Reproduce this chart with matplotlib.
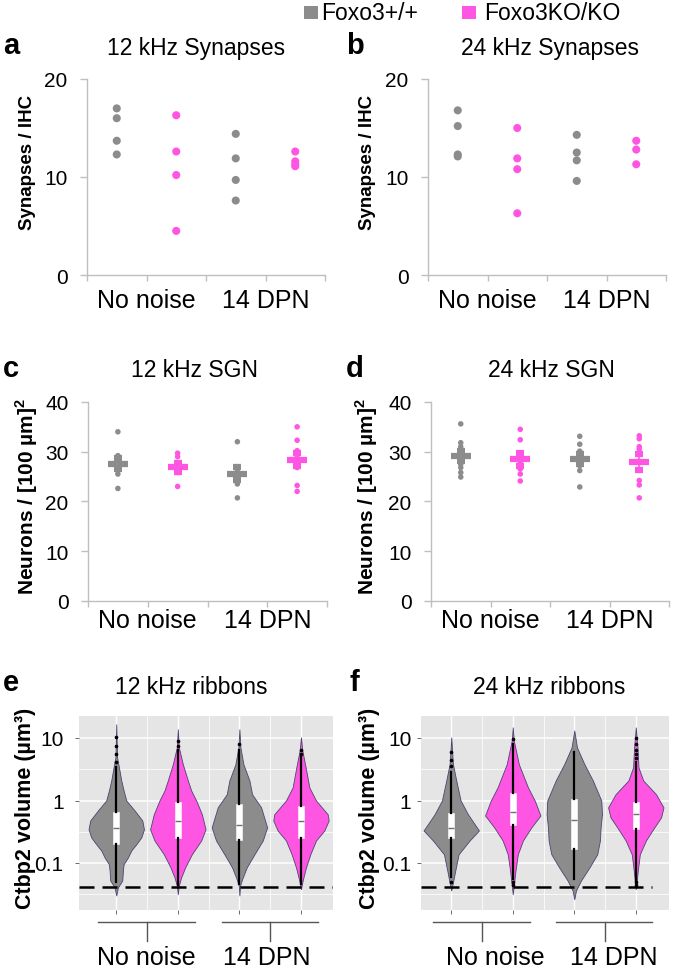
import numpy as np
import matplotlib
matplotlib.use('Agg')
import matplotlib.pyplot as plt
from matplotlib.patches import Rectangle
from matplotlib.transforms import blended_transform_factory

plt.rcParams['font.family'] = ['Liberation Sans', 'DejaVu Sans']
plt.rcParams['mathtext.fontset'] = 'custom'
plt.rcParams['mathtext.rm'] = 'Liberation Sans'
plt.rcParams['mathtext.bf'] = 'Liberation Sans:bold'

# ---------------- data ----------------
groups = ['No noise', '14 DPN']
genotypes = ['Foxo3+/+', 'Foxo3KO/KO']

# Synapses / IHC (panels a, b) order: WT no noise, KO no noise, WT 14 DPN, KO 14 DPN
syn12_wt_nn = [17.0, 16.0, 13.7, 12.3]
syn12_ko_nn = [16.3, 12.6, 10.2, 4.5]
syn12_wt_14 = [14.4, 11.9, 9.7, 7.6]
syn12_ko_14 = [12.6, 11.6, 11.3, 11.1]

syn24_wt_nn = [16.8, 15.2, 12.3, 12.1]
syn24_ko_nn = [15.0, 11.9, 10.8, 6.3]
syn24_wt_14 = [14.3, 12.5, 11.7, 9.6]
syn24_ko_14 = [13.7, 12.8, 11.3]

# Neurons / [100 um]^2 (panels c, d)
sgn12_wt_nn = [34.0, 29.2, 28.5, 27.8, 27.0, 26.2, 25.5, 22.6]
sgn12_ko_nn = [29.7, 29.0, 27.0, 26.5, 25.8, 23.0]
sgn12_wt_14 = [32.0, 26.8, 26.0, 25.3, 24.8, 23.5, 20.7]
sgn12_ko_14 = [35.0, 32.3, 30.2, 29.5, 28.8, 27.8, 26.8, 23.2, 22.0]

sgn24_wt_nn = [35.6, 31.8, 31.0, 30.2, 29.5, 28.8, 27.5, 26.8, 25.8, 24.9]
sgn24_ko_nn = [34.5, 32.4, 29.2, 28.0, 27.2, 26.5, 25.5, 24.1]
sgn24_wt_14 = [33.1, 31.5, 30.1, 29.3, 28.6, 28.0, 27.2, 26.2, 22.9]
sgn24_ko_14 = [33.2, 32.6, 31.0, 30.5, 28.0, 24.2, 23.3, 20.7]

# Ctbp2 ribbon volume violins (panels e, f): log10 level and relative density width
vio12_wt_nn_log = [1.22, 0.69, 0.53, 0.32, 0.16, 0.0, -0.16, -0.32, -0.46, -0.59, -0.70, -0.80, -0.91, -1.02, -1.12, -1.28, -1.39, -1.52]
vio12_wt_nn_den = [0, 2.5, 8, 15, 22, 30, 55, 78, 83, 75, 60, 45, 35, 22, 20, 18, 5, 0]
vio12_ko_nn_log = [1.14, 0.85, 0.58, 0.32, 0.16, 0.0, -0.22, -0.46, -0.64, -0.86, -1.07, -1.23, -1.36, -1.50]
vio12_ko_nn_den = [0, 3, 15, 30, 40, 55, 72, 83, 70, 42, 22, 10, 3, 0]
vio12_wt_14_log = [1.14, 0.85, 0.58, 0.32, 0.10, -0.11, -0.43, -0.64, -0.86, -1.07, -1.26, -1.36, -1.52]
vio12_wt_14_den = [0, 3, 12, 30, 38, 65, 83, 70, 45, 22, 8, 2, 0]
vio12_ko_14_log = [1.01, 0.80, 0.53, 0.21, 0.0, -0.22, -0.32, -0.48, -0.64, -0.86, -1.07, -1.28, -1.42]
vio12_ko_14_den = [0, 4, 14, 25, 45, 80, 83, 70, 45, 28, 15, 5, 0]

vio24_wt_nn_log = [1.01, 0.58, 0.32, 0.0, -0.22, -0.48, -0.64, -0.86, -1.12, -1.34, -1.44]
vio24_wt_nn_den = [0, 5, 15, 28, 50, 83, 55, 22, 12, 4, 0]
vio24_ko_nn_log = [1.17, 0.96, 0.58, 0.21, 0.0, -0.24, -0.43, -0.64, -0.86, -1.12, -1.36, -1.50]
vio24_ko_nn_den = [0, 3, 18, 45, 65, 82, 55, 30, 15, 8, 3, 0]
vio24_wt_14_log = [1.12, 0.85, 0.58, 0.32, 0.0, -0.22, -0.43, -0.64, -0.86, -1.07, -1.28, -1.44, -1.58]
vio24_wt_14_den = [0, 8, 30, 55, 80, 82, 78, 76, 68, 45, 20, 5, 0]
vio24_ko_14_log = [1.17, 0.85, 0.53, 0.32, 0.10, -0.11, -0.27, -0.43, -0.64, -0.86, -1.12, -1.28, -1.42]
vio24_ko_14_den = [0, 5, 8, 22, 60, 82, 75, 55, 30, 12, 6, 3, 0]

# box stats: q1, median, q3, whisker low, whisker high
box12_q1 = [0.20, 0.25, 0.23, 0.25]
box12_med = [0.36, 0.47, 0.40, 0.47]
box12_q3 = [0.65, 0.93, 0.89, 0.83]
box12_lo = [0.049, 0.044, 0.046, 0.046]
box12_hi = [3.4, 6.5, 6.5, 5.0]
box12_fliers = [[4.2, 5.5, 7.5, 10.5], [7.5, 9.0], [8.0], [5.5, 6.5]]

box24_q1 = [0.25, 0.41, 0.17, 0.35]
box24_med = [0.36, 0.66, 0.48, 0.60]
box24_q3 = [0.63, 1.30, 1.05, 0.93]
box24_lo = [0.059, 0.055, 0.055, 0.052]
box24_hi = [2.9, 7.9, 5.9, 4.1]
box24_fliers = [[3.5, 4.5, 6.0, 0.05], [0.045, 0.05, 9.5], [], [4.8, 5.5, 6.5, 8.0, 10.0, 0.045, 0.05]]

threshold = 0.042

# ---------------- style ----------------
W, H = 675, 970
fig = plt.figure(figsize=(W / 100, H / 100), dpi=100)
GRAY = '#8c8c8c'
MAG = '#ff55e3'
SPINE = '#bfbfbf'
colors4 = [GRAY, MAG, GRAY, MAG]


def ax_px(l, t, r, b):
    return fig.add_axes([l / W, 1 - b / H, (r - l) / W, (b - t) / H])


def fig_text(x, y, s, **kw):
    fig.text(x / W, 1 - y / H, s, **kw)


def excel_axes(ax, ymax, ystep):
    ax.set_xlim(0, 4)
    ax.set_ylim(0, ymax)
    for s in ['top', 'right']:
        ax.spines[s].set_visible(False)
    for s in ['left', 'bottom']:
        ax.spines[s].set_color(SPINE)
        ax.spines[s].set_linewidth(1.0)
    ax.set_yticks(np.arange(0, ymax + 1, ystep))
    ax.set_xticks([0, 1, 2, 3, 4])
    ax.set_xticklabels([])
    ax.tick_params(axis='y', length=5, width=1, color=SPINE, labelsize=15, pad=9)
    ax.tick_params(axis='x', length=4.5, width=1, color=SPINE)
    ax.patch.set_alpha(0)
    tr = blended_transform_factory(ax.transData, ax.transAxes)
    return tr


xpos = [0.5, 1.5, 2.5, 3.5]

# ---------------- panels a, b ----------------
for (l, r), series in [((87, 325), [syn12_wt_nn, syn12_ko_nn, syn12_wt_14, syn12_ko_14]),
                       ((428, 666), [syn24_wt_nn, syn24_ko_nn, syn24_wt_14, syn24_ko_14])]:
    ax = ax_px(l, 80, r, 276)
    tr = excel_axes(ax, 20, 10)
    for x, vals, c in zip(xpos, series, colors4):
        ax.scatter([x] * len(vals), vals, s=34, color=c, edgecolors='none', zorder=3, clip_on=False)
    for gx, g in zip([1, 3], groups):
        ax.text(gx, -0.125, g, transform=tr, ha='center', va='center', fontsize=18)

# ---------------- panels c, d ----------------
for (l, r), series in [((88, 327), [sgn12_wt_nn, sgn12_ko_nn, sgn12_wt_14, sgn12_ko_14]),
                       ((431, 669), [sgn24_wt_nn, sgn24_ko_nn, sgn24_wt_14, sgn24_ko_14])]:
    ax = ax_px(l, 403, r, 601.7)
    tr = excel_axes(ax, 40, 10)
    for x, vals, c in zip(xpos, series, colors4):
        v = np.array(vals)
        ax.scatter([x] * len(v), v, s=16, color=c, edgecolors='none', zorder=3)
        m = v.mean()
        sem = v.std(ddof=1) / np.sqrt(len(v))
        ax.errorbar([x], [m], yerr=[sem], fmt='_', ms=15, mew=4.5, color=c,
                    elinewidth=1.2, capsize=3, capthick=1, zorder=4)
    for gx, g in zip([1, 3], groups):
        ax.text(gx, -0.098, g, transform=tr, ha='center', va='center', fontsize=18)

# ---------------- panels e, f ----------------
vio12 = [(vio12_wt_nn_log, vio12_wt_nn_den), (vio12_ko_nn_log, vio12_ko_nn_den),
         (vio12_wt_14_log, vio12_wt_14_den), (vio12_ko_14_log, vio12_ko_14_den)]
vio24 = [(vio24_wt_nn_log, vio24_wt_nn_den), (vio24_ko_nn_log, vio24_ko_nn_den),
         (vio24_wt_14_log, vio24_wt_14_den), (vio24_ko_14_log, vio24_ko_14_den)]


def violin_panel(l, r, xlim, vios, q1, med, q3, lo, hi, fl, line_end, lab_x, ypad):
    ax = ax_px(l, 717, r, 911)
    ax.set_facecolor('#e5e5e5')
    ax.set_yscale('log')
    ax.set_ylim(10 ** -1.752, 10 ** 1.352)
    ax.set_xlim(*xlim)
    for s in ax.spines.values():
        s.set_visible(False)
    for y in [0.1, 1, 10]:
        ax.axhline(y, color='white', lw=1.1, zorder=0)
    for y in [10 ** -1.5, 10 ** -0.5, 10 ** 0.5]:
        ax.axhline(y, color='white', lw=0.55, zorder=0)
    for x in [1, 2, 3, 4]:
        ax.axvline(x, color='white', lw=1.0, zorder=0)
    for x in [1.5, 2.5, 3.5]:
        ax.axvline(x, color='white', lw=0.55, zorder=0)
    ax.set_xticks([1, 2, 3, 4])
    ax.set_xticklabels([])
    ax.set_yticks([0.1, 1, 10])
    ax.set_yticklabels(['0.1', '1', '10'])
    ax.yaxis.set_minor_locator(matplotlib.ticker.NullLocator())
    ax.tick_params(axis='both', length=3, width=0.6, color='#555555', labelsize=15)
    ax.tick_params(axis='y', pad=ypad)
    stats = []
    for lg, dn in vios:
        lg = np.array(lg)
        coords = 10 ** lg
        stats.append(dict(coords=coords, vals=np.array(dn, float), mean=0, median=0,
                          min=coords.min(), max=coords.max()))
    parts = ax.violin(stats, positions=[1, 2, 3, 4], widths=0.9, showextrema=False)
    for body, c in zip(parts['bodies'], colors4):
        body.set_facecolor(c)
        body.set_edgecolor('#4b4470')
        body.set_linewidth(0.6)
        body.set_alpha(1)
        body.set_zorder(2)
    bstats = [dict(med=m, q1=a, q3=b, whislo=w0, whishi=w1, fliers=f)
              for a, m, b, w0, w1, f in zip(q1, med, q3, lo, hi, fl)]
    ax.bxp(bstats, positions=[1, 2, 3, 4], widths=0.1, patch_artist=True, showcaps=False,
           manage_ticks=False, zorder=3,
           boxprops=dict(facecolor='white', edgecolor='white', linewidth=0.4),
           medianprops=dict(color='#6f6f6f', linewidth=1.0),
           whiskerprops=dict(color='black', linewidth=1.6),
           flierprops=dict(marker='o', markersize=1.6, markerfacecolor='black',
                           markeredgecolor='black', linestyle='none'))
    ax.plot([xlim[0], line_end], [threshold, threshold], color='black', lw=1.8,
            dashes=(6, 3.2), zorder=5, solid_capstyle='butt')
    tr = blended_transform_factory(ax.transData, ax.transAxes)
    for a, b, c in [(0.70, 2.28, 1.5), (2.71, 4.27, 3.5)]:
        ax.plot([a, b], [-0.06, -0.06], color='#555555', lw=1.0, transform=tr, clip_on=False)
        ax.plot([c, c], [-0.06, -0.158], color='#555555', lw=1.0, transform=tr, clip_on=False)
    for gx, g in zip(lab_x, groups):
        ax.text(gx, -0.242, g, transform=tr, ha='center', va='center', fontsize=18)
    return ax


violin_panel(79, 333, (0.395, 4.52), vio12, box12_q1, box12_med, box12_q3, box12_lo,
             box12_hi, box12_fliers, 4.52, [1.49, 3.44], 8)
violin_panel(421, 669, (0.508, 4.54), vio24, box24_q1, box24_med, box24_q3, box24_lo,
             box24_hi, box24_fliers, 4.26, [1.71, 3.64], 4)

# ---------------- texts ----------------
titles = [(196, 48, '12 kHz Synapses'), (550, 48, '24 kHz Synapses'),
          (195, 371, '12 kHz SGN'), (551, 371, '24 kHz SGN'),
          (191, 687, '12 kHz ribbons'), (549, 687, '24 kHz ribbons')]
for x, y, s in titles:
    fig_text(x, y, s, ha='center', va='center', fontsize=16.5)

letters = [(3, 46, 'a'), (346, 46, 'b'), (3, 369, 'c'), (346, 369, 'd'),
           (3, 683, 'e'), (350, 683, 'f')]
for x, y, s in letters:
    fig_text(x, y, s, ha='left', va='center', fontsize=21, fontweight='bold')

ylab_sgn = r'Neurons / [100 µm]$^{\mathbf{2}}$'
ylabels = [(28, 162, 'Synapses / IHC', 13.5), (368, 162, 'Synapses / IHC', 13.5),
           (27, 497, ylab_sgn, 15), (367, 497, ylab_sgn, 15),
           (26, 808, 'Ctbp2 volume (µm³)', 15.5), (370, 808, 'Ctbp2 volume (µm³)', 15.5)]
for x, y, s, fs in ylabels:
    fig_text(x, y, s, ha='center', va='center', rotation=90, fontsize=fs, fontweight='bold')

# legend
for (x0, c), name, tx in [((304, GRAY), genotypes[0], 321), ((462, MAG), genotypes[1], 484)]:
    fig.patches.append(Rectangle((x0 / W, 1 - 20 / H), 14 / W, 13 / H, transform=fig.transFigure,
                                 facecolor=c, edgecolor='none'))
    fig_text(tx, 13, name, ha='left', va='center', fontsize=16.5)

fig.savefig('out.png', dpi=100)
